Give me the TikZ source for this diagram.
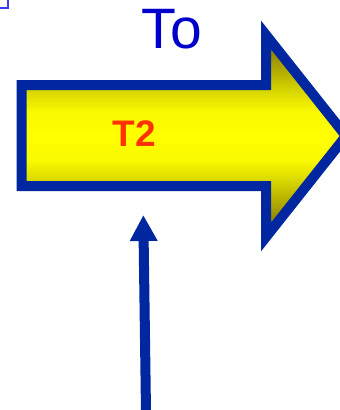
\documentclass[tikz,border=0pt]{standalone}
\usepackage{fontspec}
\setmainfont{Liberation Sans}
\usetikzlibrary{arrows.meta}
\definecolor{bordblue}{RGB}{0,38,160}
\definecolor{tored}{RGB}{255,51,0}
\definecolor{toblue}{RGB}{0,0,204}
\definecolor{boxblue}{RGB}{60,60,255}
\pgfdeclareverticalshading{arrowshade}{100bp}{%
  rgb(0bp)=(0.47,0.43,0);
  rgb(25bp)=(0.47,0.43,0);
  rgb(28.7bp)=(0.55,0.51,0);
  rgb(38.6bp)=(0.84,0.83,0);
  rgb(44bp)=(0.98,0.98,0);
  rgb(50bp)=(1,1,0);
  rgb(56bp)=(0.98,0.98,0);
  rgb(61.4bp)=(0.84,0.83,0);
  rgb(71.3bp)=(0.55,0.51,0);
  rgb(75bp)=(0.47,0.43,0);
  rgb(100bp)=(0.47,0.43,0)}
\tikzset{
  bigarrow/.style={draw=bordblue, line width=10pt, line join=miter, miter limit=10,
    shading=arrowshade},
  pointer/.style={draw=bordblue, line width=10pt, -{Triangle[width=26pt,length=26pt]}},
  title/.style={text=toblue, font=\fontsize{57}{62}\selectfont, anchor=base, inner sep=0pt},
  label/.style={text=tored, font=\bfseries\fontsize{37}{42}\selectfont, anchor=base, inner sep=0pt},
}
\begin{document}
\begin{tikzpicture}[x=1pt,y=-1pt]
\useasboundingbox (0,0) rectangle (340,410);
\draw[boxblue, line width=1.2pt] (0,8) -- (8,8) -- (8,0);
\path[bigarrow] (21.5,85) -- (266,85) -- (266,35) -- (346,136) -- (266,237) -- (266,186) -- (21.5,186) -- cycle;
\node[label] (t2) at (134,146) {T2};
\node[title] (to) at (172,48) {To};
\coordinate (src) at (146,412);
\coordinate (dst) at (143.3,215);
\draw[pointer] (src) -- (dst);
\end{tikzpicture}
\end{document}
